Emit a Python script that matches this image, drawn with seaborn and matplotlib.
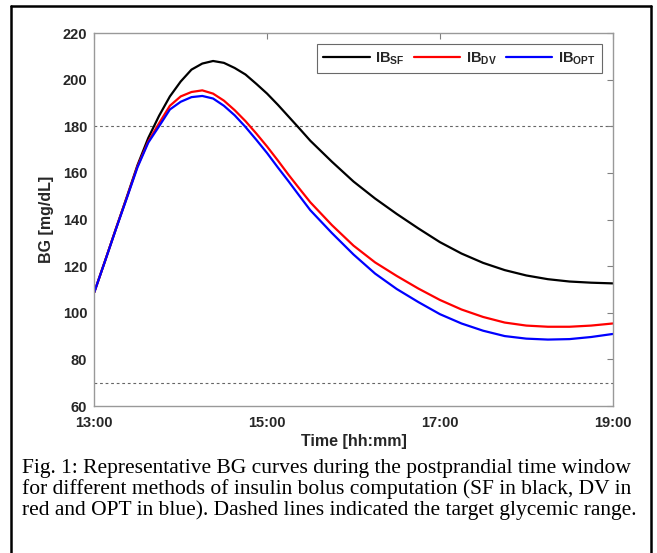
import numpy as np
import pandas as pd
import seaborn as sns
import matplotlib.pyplot as plt
from matplotlib.lines import Line2D

# time in hours (denser sampling around the peak)
hours = [13.000, 13.125, 13.250, 13.375, 13.500, 13.625, 13.750, 13.875,
         14.000, 14.125, 14.250, 14.375, 14.500, 14.625, 14.750, 14.875,
         15.000, 15.125, 15.250, 15.375, 15.500,
         15.75, 16.00, 16.25, 16.50, 16.75, 17.00, 17.25, 17.50, 17.75,
         18.00, 18.25, 18.50, 18.75, 19.00]

bg_sf = [108.8, 122.3, 136.0, 149.5, 163.3, 175.0, 184.5, 192.8,
         199.2, 204.3, 206.9, 208.0, 207.2, 205.0, 202.2, 198.2,
         194.0, 189.2, 184.1, 179.0, 173.8,
         164.8, 156.3, 149.0, 142.4, 136.2, 130.3, 125.4, 121.4, 118.3,
         116.0, 114.4, 113.4, 112.9, 112.6]
bg_dv = [108.8, 122.3, 136.0, 149.3, 162.8, 173.5, 181.3, 188.8,
         192.8, 194.7, 195.4, 194.0, 191.0, 186.9, 182.2, 176.9,
         171.3, 165.3, 159.1, 153.2, 147.4,
         137.6, 128.8, 121.6, 115.8, 110.4, 105.5, 101.4, 98.2, 95.8,
         94.5, 94.0, 94.0, 94.5, 95.4]
bg_opt = [108.8, 122.2, 135.8, 149.0, 162.4, 173.0, 180.0, 187.2,
          190.5, 192.5, 193.0, 191.9, 188.8, 184.7, 179.7, 174.2,
          168.5, 162.3, 156.3, 150.1, 144.0,
          134.2, 125.0, 116.8, 110.2, 104.6, 99.4, 95.4, 92.3, 90.0,
          88.9, 88.5, 88.7, 89.6, 90.9]

methods = ['SF', 'DV', 'OPT']
target_range = [70, 180]
xticks = [13, 15, 17, 19]
xticklabels = ['13:00', '15:00', '17:00', '19:00']

caption = [
    "Fig. 1: Representative BG curves during the postprandial time window",
    "for different methods of insulin bolus computation (SF in black, DV in",
    "red and OPT in blue). Dashed lines indicated the target glycemic range.",
]

df = pd.DataFrame({
    'time': hours * 3,
    'BG': bg_sf + bg_dv + bg_opt,
    'method': [m for m in methods for _ in hours],
})

sns.set_style('white')
plt.rcParams['font.family'] = ['Liberation Sans', 'DejaVu Sans']
plt.rcParams['mathtext.fontset'] = 'custom'
plt.rcParams['mathtext.rm'] = 'Liberation Sans:bold'
plt.rcParams['mathtext.bf'] = 'Liberation Sans:bold'

fig = plt.figure(figsize=(6.57, 5.53), dpi=100)
ax = fig.add_axes([0.1435, 0.2658, 0.7891, 0.6745])

sns.lineplot(data=df, x='time', y='BG', hue='method',
             palette={'SF': 'black', 'DV': '#ff0000', 'OPT': '#0000ff'},
             linewidth=1.6, ax=ax, legend=False)

for lvl in target_range:
    ax.axhline(lvl, color='#666666', lw=0.8, ls=(0, (2.5, 2.5)), zorder=0)

ax.set_xlim(13, 19)
ax.set_ylim(60, 220)
ax.set_xticks(xticks)
ax.set_xticklabels(xticklabels)
ax.set_yticks(range(60, 221, 20))
ax.tick_params(direction='in', top=True, right=True, length=4,
               color='#808080', labelsize=10.5, labelcolor='#262626')
ax.tick_params(axis='x', pad=7)
ax.tick_params(axis='y', pad=5)
for lab in ax.get_xticklabels() + ax.get_yticklabels():
    lab.set_fontweight('bold')
for sp in ax.spines.values():
    sp.set_color('#999999')
    sp.set_linewidth(1.0)

ax.set_xlabel('Time [hh:mm]', fontsize=11.5, fontweight='bold', color='#262626', labelpad=3)
ax.set_ylabel('BG [mg/dL]', fontsize=11.5, fontweight='bold', color='#262626', labelpad=6)

handles = [Line2D([], [], color=c, lw=1.6) for c in ['black', '#ff0000', '#0000ff']]
labels = [r'$\mathbf{IB}_{\mathbf{%s}}$' % m for m in methods]
leg = ax.legend(handles, labels, loc='upper right', ncol=3, fontsize=10.5,
                frameon=True, fancybox=False, edgecolor='#444444',
                handlelength=3.2, columnspacing=0.6, handletextpad=0.4,
                borderpad=0.4, borderaxespad=0, bbox_to_anchor=(0.979, 0.97))
leg.get_frame().set_linewidth(0.8)

for i, line in enumerate(caption):
    fig.text(0.0335, 1 - (468 + 21 * i) / 553, line, ha='left', va='center',
             fontsize=15.5, family='Liberation Serif', color='black')

# outer frame (open at bottom)
fig.add_artist(Line2D([0.0167, 0.0167], [0.0, 0.990], color='black', lw=1.8))
fig.add_artist(Line2D([0.9916, 0.9916], [0.0, 0.990], color='black', lw=1.8))
fig.add_artist(Line2D([0.0167, 0.9916], [0.990, 0.990], color='black', lw=1.8))

fig.savefig('out.png', dpi=100)
